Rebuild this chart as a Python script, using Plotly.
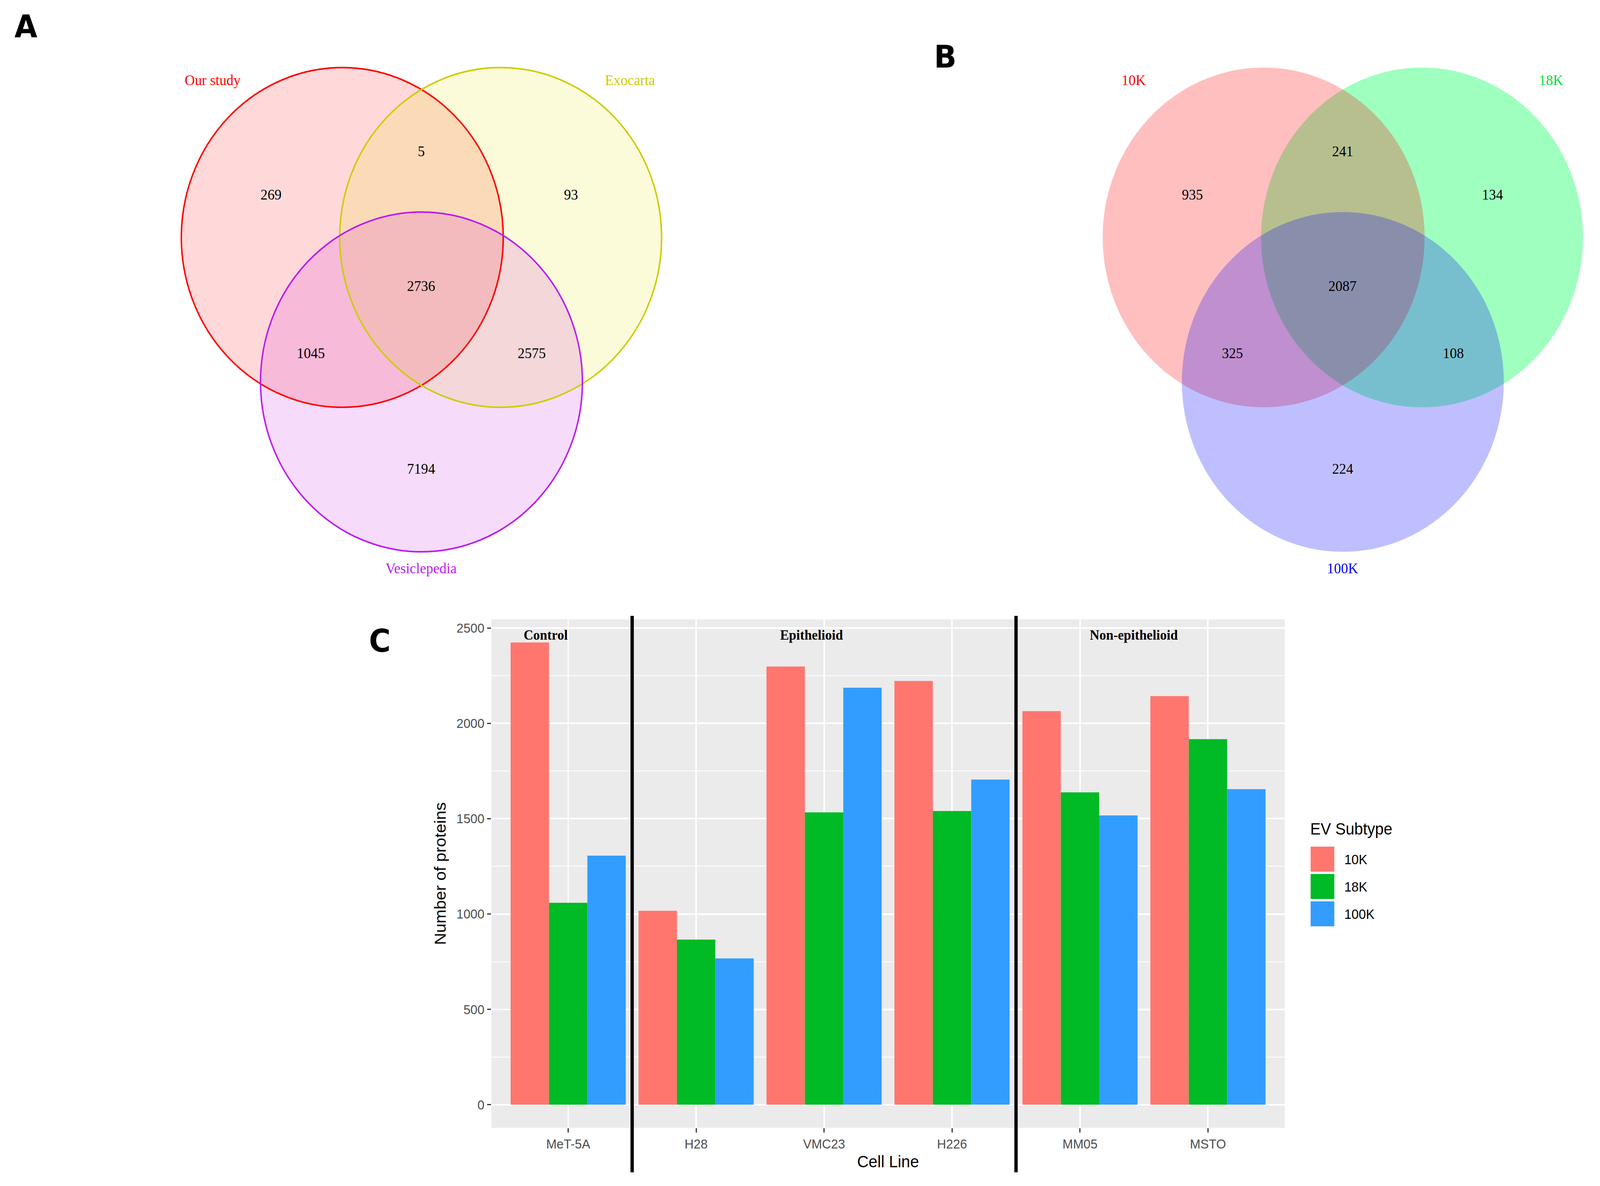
import plotly.graph_objects as go

W, H = 4324, 3037

# ---------------- data ----------------
cell_lines = ["MeT-5A", "H28", "VMC23", "H226", "MM05", "MSTO"]
subtypes = ["10K", "18K", "100K"]
n_10k = [2424, 1017, 2298, 2222, 2064, 2143]
n_18k = [1059, 866, 1533, 1540, 1638, 1917]
n_100k = [1306, 767, 2187, 1705, 1517, 1655]
series_values = [n_10k, n_18k, n_100k]
bar_colors = ["#FF766F", "#00BA26", "#339DFF"]

group_labels = ["Control", "Epithelioid", "Non-epithelioid"]
group_label_x = [-0.175, 1.90, 4.42]
group_label_y = 2463
group_boundaries = [0.5, 3.5]

# Venn A
venn_a_sets = ["Our study", "Exocarta", "Vesiclepedia"]
venn_a_set_colors = ["#FF0000", "#CCCC00", "#B91CF0"]
venn_a_fills = ["rgba(255,0,0,0.15)", "rgba(225,228,0,0.15)", "rgba(200,15,222,0.15)"]
# regions: only1, only2, only3, 1&2, 1&3, 2&3, all
venn_a_counts = [269, 93, 7194, 5, 1045, 2575, 2736]

# Venn B
venn_b_sets = ["10K", "18K", "100K"]
venn_b_set_colors = ["#FF0000", "#00E040", "#0000FF"]
venn_b_fills = ["rgba(255,0,0,0.25)", "rgba(0,255,85,0.375)", "rgba(0,0,255,0.25)"]
venn_b_counts = [935, 134, 224, 241, 325, 108, 2087]

# ---------------- layout geometry (pixels) ----------------
R = 435
circle_centers = [(925, 608), (1353, 608), (1139, 978)]
region_pos = [(732, 498), (1543, 498), (1138, 1200), (1138, 387),
              (840, 904), (1437, 904), (1138, 732)]
set_label_pos = [(574, 205), (1702, 205), (1138, 1455)]
B_OFFSET = 2490


def px(x):
    return x / W


def py(y):
    return 1 - y / H


fig = go.Figure()

for name, vals, col in zip(subtypes, series_values, bar_colors):
    fig.add_trace(go.Bar(x=cell_lines, y=vals, name=name,
                         marker=dict(color=col, line=dict(width=0)),
                         showlegend=False))

shapes = []
annotations = []


def venn(offset, fills, strokes, draw_order, counts, sets, set_colors):
    for i in draw_order:
        cx, cy = circle_centers[i]
        cx += offset
        shapes.append(dict(type="circle", xref="paper", yref="paper",
                           x0=px(cx - R), x1=px(cx + R), y0=py(cy + R), y1=py(cy - R),
                           fillcolor=fills[i], line=dict(width=0), layer="above"))
    if strokes:
        for i in range(3):
            cx, cy = circle_centers[i]
            cx += offset
            shapes.append(dict(type="circle", xref="paper", yref="paper",
                               x0=px(cx - R), x1=px(cx + R), y0=py(cy + R), y1=py(cy - R),
                               fillcolor="rgba(0,0,0,0)",
                               line=dict(width=4, color=strokes[i]), layer="above"))
    for c, (x, y) in zip(counts, region_pos):
        annotations.append(dict(xref="paper", yref="paper", x=px(x + offset), y=py(y),
                                text=str(c), showarrow=False, xanchor="center", yanchor="middle",
                                font=dict(family="Liberation Serif", size=38, color="black")))
    for s, colr, (x, y) in zip(sets, set_colors, set_label_pos):
        annotations.append(dict(xref="paper", yref="paper", x=px(x + offset), y=py(y),
                                text=s, showarrow=False, xanchor="center", yanchor="middle",
                                font=dict(family="Liberation Serif", size=38, color=colr)))


venn(0, venn_a_fills, venn_a_set_colors, [0, 1, 2], venn_a_counts, venn_a_sets, venn_a_set_colors)
venn(B_OFFSET, venn_b_fills, None, [1, 0, 2], venn_b_counts, venn_b_sets, venn_b_set_colors)

# panel letters
for letter, (x, y) in zip(["A", "B", "C"], [(70, 69), (2554, 146), (1026, 1641)]):
    annotations.append(dict(xref="paper", yref="paper", x=px(x), y=py(y), text="<b>%s</b>" % letter,
                            showarrow=False, xanchor="center", yanchor="middle",
                            font=dict(family="DejaVu Sans", size=80, color="black")))

# group labels in bar chart
for lab, gx in zip(group_labels, group_label_x):
    annotations.append(dict(xref="x", yref="y", x=gx, y=group_label_y, text="<b>%s</b>" % lab,
                            showarrow=False, xanchor="center", yanchor="middle",
                            font=dict(family="Liberation Serif", size=36, color="black")))

# group boundary lines
for b in group_boundaries:
    shapes.append(dict(type="line", xref="x", yref="paper", x0=b, x1=b,
                       y0=py(3002), y1=py(1577), line=dict(color="black", width=9), layer="above"))

# manual legend
annotations.append(dict(xref="paper", yref="paper", x=px(3539), y=py(2122), text="EV Subtype",
                        showarrow=False, xanchor="left", yanchor="middle",
                        font=dict(family="Liberation Sans", size=42, color="black")))
for k, (name, col) in enumerate(zip(subtypes, bar_colors)):
    top = 2168 + 70 * k
    shapes.append(dict(type="rect", xref="paper", yref="paper",
                       x0=px(3542), x1=px(3606), y0=py(top + 64), y1=py(top),
                       fillcolor=col, line=dict(width=0), layer="above"))
    annotations.append(dict(xref="paper", yref="paper", x=px(3631), y=py(top + 32), text=name,
                            showarrow=False, xanchor="left", yanchor="middle",
                            font=dict(family="Liberation Sans", size=35, color="black")))

axis_font = dict(family="Liberation Sans", size=34, color="#4D4D4D")
title_font = dict(family="Liberation Sans", size=43, color="black")

fig.update_layout(
    width=W, height=H,
    margin=dict(l=0, r=0, t=0, b=0),
    paper_bgcolor="white",
    plot_bgcolor="#EBEBEB",
    barmode="group", bargap=0.1, bargroupgap=0,
    shapes=shapes, annotations=annotations,
    xaxis=dict(domain=[px(1328), px(3472)], type="category", range=[-0.6, 5.6],
               showgrid=True, gridcolor="white", gridwidth=4, zeroline=False, showline=False,
               ticks="outside", ticklen=11, tickwidth=3, tickcolor="#333333",
               tickfont=axis_font,
               title=dict(text="Cell Line", font=title_font, standoff=12)),
    yaxis=dict(domain=[py(2888), py(1586)], range=[-121.2, 2545.2],
               tick0=0, dtick=500, showgrid=True, gridcolor="white", gridwidth=4,
               zeroline=False, showline=False,
               minor=dict(dtick=250, tick0=0, showgrid=True, gridcolor="white", gridwidth=2, ticks=""),
               ticks="outside", ticklen=11, tickwidth=3, tickcolor="#333333",
               tickfont=axis_font,
               title=dict(text="Number of proteins", font=title_font, standoff=14)),
)

# fit the fixed-size figure into the whole browser viewport
fit_js = """
(function(){
  var gd = document.getElementById('{plot_id}');
  document.documentElement.style.margin = '0';
  document.documentElement.style.padding = '0';
  document.documentElement.style.overflow = 'hidden';
  document.body.style.margin = '0';
  document.body.style.padding = '0';
  document.body.style.overflow = 'hidden';
  function fit(){
    var sx = window.innerWidth / %d, sy = window.innerHeight / %d;
    gd.style.transformOrigin = '0 0';
    gd.style.transform = 'scale(' + sx + ',' + sy + ')';
  }
  fit();
  window.addEventListener('resize', fit);
})();
""" % (W, H)

fig.write_html("out.html", post_script=fit_js, config={"displayModeBar": False})
